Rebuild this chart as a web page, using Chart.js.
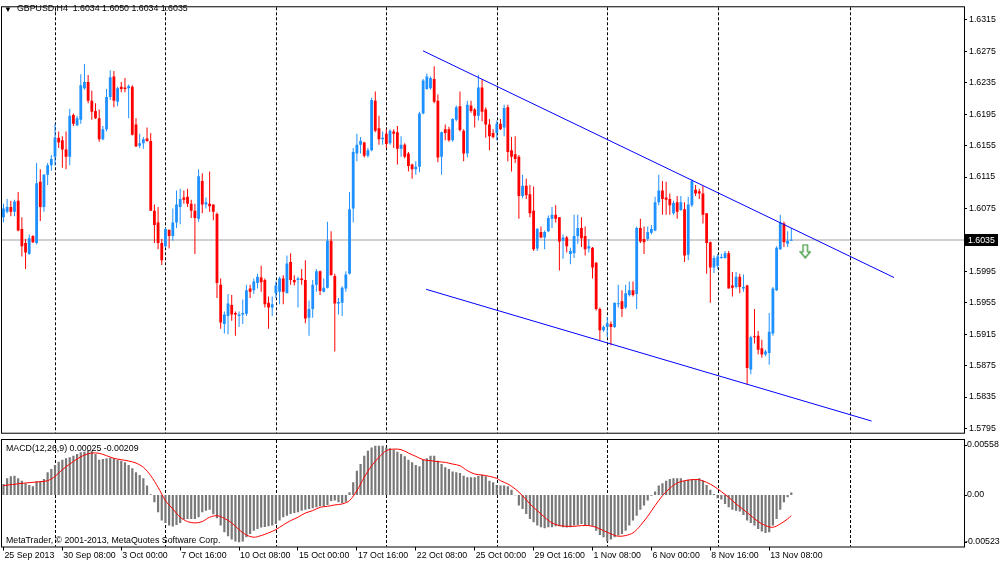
<!DOCTYPE html>
<html>
<head>
<meta charset="utf-8">
<script src="https://cdn.jsdelivr.net/npm/chart.js@4.4.1/dist/chart.umd.min.js"></script>
<style>
  html, body { margin: 0; padding: 0; background: #fff; }
  #wrap { position: relative; width: 1000px; height: 564px; overflow: hidden; background: #fff; }
  #priceBox { position: absolute; left: 0; top: 0; width: 1000px; height: 440px; }
  #macdBox { position: absolute; left: 0; top: 438px; width: 1000px; height: 126px; }
</style>
</head>
<body>
<div id="wrap">
  <div id="priceBox"><canvas id="price"></canvas></div>
  <div id="macdBox"><canvas id="macd"></canvas></div>
</div>
<script>
// GBPUSD H4 candles, one entry per bar (bar 0 = 25 Sep 2013 16:00)
const symbol = "GBPUSD";
const period = "H4";

const open = [1.6064,1.6071,1.6077,1.6071,1.6085,1.6049,1.6031,1.6017,1.6040,1.6031,
  1.6109,1.6077,1.6118,1.6130,1.6141,1.6165,1.6162,1.6150,1.6141,1.6194,
  1.6181,1.6188,1.6228,1.6236,1.6212,1.6199,1.6190,1.6163,1.6176,1.6217,
  1.6243,1.6211,1.6230,1.6229,1.6228,1.6230,1.6182,1.6155,1.6158,1.6164,
  1.6161,1.6072,1.6057,1.6031,1.6027,1.6048,1.6040,1.6057,1.6077,1.6089,
  1.6090,1.6081,1.6072,1.6062,1.6110,1.6080,1.6081,1.6080,1.6068,1.5978,
  1.5928,1.5938,1.5952,1.5942,1.5938,1.5940,1.5941,1.5973,1.5971,1.5980,
  1.5987,1.5984,1.5955,1.5949,1.5967,1.5969,1.5986,1.5967,1.6007,1.5984,
  1.5984,1.5986,1.5984,1.5936,1.5947,1.5978,1.5995,1.5969,1.5974,1.6034,
  1.5989,1.5954,1.5955,1.5973,1.5992,1.6075,1.6145,1.6156,1.6159,1.6142,
  1.6149,1.6212,1.6177,1.6163,1.6170,1.6158,1.6173,1.6172,1.6151,1.6156,
  1.6145,1.6131,1.6125,1.6128,1.6196,1.6227,1.6228,1.6240,1.6212,1.6141,
  1.6176,1.6176,1.6162,1.6188,1.6205,1.6174,1.6145,1.6206,1.6201,1.6193,
  1.6229,1.6201,1.6182,1.6171,1.6171,1.6183,1.6178,1.6204,1.6149,1.6144,
  1.6141,1.6091,1.6104,1.6093,1.6072,1.6024,1.6045,1.6038,1.6046,1.6062,
  1.6067,1.6064,1.6034,1.6038,1.6017,1.6018,1.6040,1.6050,1.6040,1.6024,
  1.6025,1.6006,1.5947,1.5920,1.5924,1.5928,1.5924,1.5953,1.5957,1.5949,
  1.5965,1.5971,1.5966,1.6050,1.6036,1.6036,1.6044,1.6047,1.6083,1.6098,
  1.6089,1.6087,1.6069,1.6083,1.6073,1.6074,1.6016,1.6079,1.6099,1.6097,
  1.6094,1.6069,1.6032,1.6000,1.6002,1.6012,1.6012,1.6018,1.5977,1.5975,
  1.5988,1.5973,1.5977,1.5870,1.5912,1.5913,1.5897,1.5889,1.5891,1.5916,
  1.5971,1.6023,1.6056,1.6030,1.6034];

const high = [1.6081,1.6087,1.6085,1.6086,1.6096,1.6064,1.6036,1.6042,1.6041,1.6133,
  1.6125,1.6119,1.6133,1.6143,1.6183,1.6173,1.6167,1.6173,1.6202,1.6196,
  1.6193,1.6246,1.6259,1.6245,1.6225,1.6209,1.6201,1.6180,1.6227,1.6251,
  1.6250,1.6230,1.6236,1.6241,1.6233,1.6232,1.6190,1.6170,1.6166,1.6178,
  1.6171,1.6080,1.6077,1.6036,1.6050,1.6048,1.6075,1.6098,1.6100,1.6098,
  1.6100,1.6086,1.6081,1.6125,1.6120,1.6089,1.6122,1.6080,1.6070,1.5986,
  1.5944,1.5966,1.5965,1.5944,1.5944,1.5959,1.5978,1.5978,1.5986,1.5992,
  1.6002,1.5986,1.5963,1.5963,1.5982,1.5988,1.5990,1.6015,1.6018,1.5990,
  1.5988,1.5998,1.6009,1.5958,1.5984,1.5998,1.5996,1.5986,1.6058,1.6046,
  1.5992,1.5961,1.5976,1.5995,1.6096,1.6152,1.6170,1.6166,1.6160,1.6152,
  1.6216,1.6224,1.6193,1.6173,1.6176,1.6176,1.6176,1.6180,1.6167,1.6158,
  1.6147,1.6132,1.6135,1.6198,1.6240,1.6247,1.6243,1.6256,1.6220,1.6173,
  1.6182,1.6179,1.6190,1.6206,1.6224,1.6176,1.6212,1.6212,1.6203,1.6245,
  1.6240,1.6204,1.6189,1.6176,1.6187,1.6189,1.6207,1.6207,1.6166,1.6167,
  1.6143,1.6118,1.6113,1.6105,1.6103,1.6050,1.6052,1.6047,1.6066,1.6077,
  1.6079,1.6064,1.6042,1.6040,1.6025,1.6067,1.6067,1.6064,1.6052,1.6036,
  1.6026,1.6007,1.5949,1.5926,1.5937,1.5931,1.5955,1.5978,1.5971,1.5978,
  1.5982,1.5982,1.6052,1.6062,1.6052,1.6052,1.6054,1.6090,1.6118,1.6110,
  1.6109,1.6094,1.6085,1.6091,1.6091,1.6083,1.6090,1.6112,1.6105,1.6100,
  1.6104,1.6069,1.6033,1.6015,1.6017,1.6017,1.6021,1.6021,1.5994,1.5994,
  1.5992,1.5991,1.5978,1.5913,1.5947,1.5919,1.5908,1.5895,1.5942,1.5975,
  1.6027,1.6067,1.6058,1.6046,1.6050];

const low = [1.6057,1.6069,1.6065,1.6065,1.6046,1.6014,1.5998,1.6016,1.6031,1.6029,
  1.6059,1.6071,1.6105,1.6123,1.6130,1.6152,1.6127,1.6125,1.6130,1.6180,
  1.6180,1.6183,1.6226,1.6209,1.6188,1.6189,1.6160,1.6162,1.6173,1.6213,
  1.6204,1.6205,1.6223,1.6223,1.6190,1.6168,1.6154,1.6152,1.6151,1.6160,
  1.6072,1.6031,1.6023,1.6003,1.6025,1.6024,1.6034,1.6050,1.6055,1.6081,
  1.6077,1.6063,1.6017,1.6058,1.6069,1.6075,1.6071,1.6060,1.5961,1.5922,
  1.5916,1.5915,1.5932,1.5913,1.5924,1.5928,1.5938,1.5961,1.5966,1.5973,
  1.5969,1.5949,1.5922,1.5938,1.5961,1.5953,1.5953,1.5967,1.5978,1.5977,
  1.5949,1.5978,1.5929,1.5913,1.5936,1.5969,1.5965,1.5968,1.5973,1.5990,
  1.5893,1.5940,1.5938,1.5969,1.5991,1.6057,1.6135,1.6145,1.6140,1.6140,
  1.6148,1.6172,1.6156,1.6156,1.6152,1.6156,1.6152,1.6131,1.6141,1.6139,
  1.6122,1.6113,1.6118,1.6121,1.6195,1.6226,1.6226,1.6209,1.6134,1.6118,
  1.6162,1.6160,1.6160,1.6186,1.6173,1.6135,1.6140,1.6197,1.6178,1.6187,
  1.6186,1.6165,1.6149,1.6164,1.6162,1.6175,1.6167,1.6135,1.6122,1.6133,
  1.6062,1.6088,1.6087,1.6064,1.6021,1.6021,1.6037,1.6023,1.6045,1.6050,
  1.6057,1.5996,1.6011,1.6019,1.6004,1.6012,1.6030,1.6026,1.6015,1.6019,
  1.5986,1.5945,1.5907,1.5918,1.5911,1.5901,1.5923,1.5949,1.5937,1.5947,
  1.5963,1.5963,1.5947,1.6031,1.6017,1.6034,1.6042,1.6046,1.6079,1.6067,
  1.6067,1.6067,1.6067,1.6062,1.6072,1.6007,1.6009,1.6077,1.6091,1.6087,
  1.6056,1.5992,1.5955,1.5993,1.5998,1.6011,1.6011,1.5973,1.5963,1.5973,
  1.5967,1.5969,1.5851,1.5864,1.5903,1.5889,1.5885,1.5887,1.5876,1.5913,
  1.5970,1.6022,1.6026,1.6026,1.6034];

const close = [1.6075,1.6077,1.6071,1.6084,1.6047,1.6027,1.6019,1.6037,1.6032,1.6107,
  1.6077,1.6118,1.6130,1.6138,1.6165,1.6159,1.6150,1.6141,1.6193,1.6183,
  1.6190,1.6232,1.6236,1.6212,1.6198,1.6190,1.6163,1.6176,1.6217,1.6242,
  1.6212,1.6228,1.6227,1.6227,1.6231,1.6169,1.6154,1.6158,1.6163,1.6161,
  1.6072,1.6054,1.6031,1.6009,1.6049,1.6040,1.6057,1.6080,1.6087,1.6086,
  1.6081,1.6072,1.6063,1.6116,1.6080,1.6083,1.6078,1.6071,1.5980,1.5930,
  1.5940,1.5954,1.5940,1.5940,1.5940,1.5942,1.5971,1.5969,1.5982,1.5988,
  1.5981,1.5953,1.5949,1.5953,1.5977,1.5986,1.5969,1.6005,1.5984,1.5981,
  1.5986,1.5984,1.5935,1.5947,1.5978,1.5995,1.5970,1.5974,1.6034,1.5990,
  1.5954,1.5956,1.5974,1.5991,1.6074,1.6147,1.6156,1.6161,1.6142,1.6149,
  1.6213,1.6174,1.6163,1.6165,1.6157,1.6174,1.6170,1.6151,1.6156,1.6141,
  1.6129,1.6125,1.6128,1.6196,1.6238,1.6243,1.6241,1.6211,1.6140,1.6172,
  1.6171,1.6162,1.6189,1.6204,1.6175,1.6145,1.6207,1.6199,1.6193,1.6229,
  1.6198,1.6182,1.6167,1.6166,1.6183,1.6176,1.6203,1.6147,1.6141,1.6138,
  1.6091,1.6104,1.6092,1.6069,1.6023,1.6049,1.6038,1.6045,1.6063,1.6067,
  1.6062,1.6033,1.6038,1.6027,1.6021,1.6040,1.6050,1.6037,1.6023,1.6027,
  1.6000,1.5947,1.5920,1.5924,1.5929,1.5924,1.5955,1.5954,1.5947,1.5967,
  1.5971,1.5965,1.6050,1.6033,1.6032,1.6045,1.6049,1.6083,1.6098,1.6087,
  1.6086,1.6079,1.6082,1.6071,1.6083,1.6015,1.6080,1.6110,1.6094,1.6094,
  1.6067,1.6031,1.6000,1.6012,1.6014,1.6013,1.6018,1.5973,1.5974,1.5988,
  1.5975,1.5975,1.5872,1.5911,1.5911,1.5895,1.5889,1.5893,1.5918,1.5973,
  1.6025,1.6057,1.6032,1.6034,1.6035];

// MACD(12,26,9): histogram per bar, signal line read at the listed bars
const macd = [0.00112,0.00169,0.00189,0.00196,0.00169,0.00145,0.00118,0.00101,0.00088,0.00139,
  0.00139,0.00162,0.00230,0.00264,0.00304,0.00338,0.00358,0.00372,0.00382,0.00399,
  0.00416,0.00433,0.00439,0.00453,0.00450,0.00416,0.00358,0.00365,0.00372,0.00379,
  0.00372,0.00358,0.00348,0.00331,0.00304,0.00270,0.00230,0.00203,0.00169,0.00095,
  0.00007,-0.00074,-0.00176,-0.00260,-0.00284,-0.00311,-0.00321,-0.00304,-0.00284,-0.00250,
  -0.00243,-0.00243,-0.00243,-0.00226,-0.00176,-0.00159,-0.00149,-0.00196,-0.00237,-0.00311,
  -0.00379,-0.00419,-0.00453,-0.00473,-0.00480,-0.00473,-0.00429,-0.00395,-0.00362,-0.00345,
  -0.00331,-0.00324,-0.00318,-0.00311,-0.00294,-0.00260,-0.00226,-0.00210,-0.00193,-0.00183,
  -0.00176,-0.00159,-0.00149,-0.00142,-0.00135,-0.00125,-0.00115,-0.00115,-0.00101,-0.00061,
  -0.00057,-0.00074,-0.00081,-0.00068,0.00027,0.00128,0.00247,0.00314,0.00399,0.00450,
  0.00483,0.00500,0.00500,0.00500,0.00483,0.00473,0.00460,0.00439,0.00416,0.00392,
  0.00358,0.00331,0.00304,0.00291,0.00358,0.00372,0.00399,0.00399,0.00348,0.00314,
  0.00281,0.00264,0.00237,0.00230,0.00223,0.00196,0.00179,0.00179,0.00179,0.00196,
  0.00203,0.00189,0.00145,0.00128,0.00101,0.00095,0.00095,0.00088,0.00054,-0.00003,
  -0.00108,-0.00142,-0.00193,-0.00243,-0.00277,-0.00311,-0.00328,-0.00338,-0.00328,-0.00328,
  -0.00318,-0.00318,-0.00328,-0.00331,-0.00328,-0.00311,-0.00304,-0.00294,-0.00304,-0.00311,
  -0.00318,-0.00362,-0.00406,-0.00429,-0.00473,-0.00453,-0.00429,-0.00412,-0.00395,-0.00362,
  -0.00311,-0.00260,-0.00210,-0.00149,-0.00108,-0.00057,-0.00007,0.00034,0.00095,0.00118,
  0.00145,0.00162,0.00169,0.00169,0.00169,0.00145,0.00155,0.00162,0.00162,0.00169,
  0.00145,0.00101,0.00054,0.00010,-0.00034,-0.00047,-0.00091,-0.00125,-0.00149,-0.00159,
  -0.00169,-0.00203,-0.00260,-0.00284,-0.00311,-0.00345,-0.00372,-0.00385,-0.00379,-0.00311,
  -0.00243,-0.00149,-0.00074,-0.00024,0.00025];

const signalAt = [0,5,10,12,14,16,18,20,22,24,26,28,30,32,34,36,38,40,42,44,
  46,48,50,52,54,56,58,60,62,64,66,68,70,72,74,76,78,80,82,84,
  86,88,90,92,94,96,98,100,102,104,106,108,110,112,114,116,118,120,122,124,
  126,128,130,132,134,135,137,139,141,143,145,147,149,151,153,155,157,159,161,163,
  165,167,169,171,173,175,177,179,181,183,185,187,189,191,193,195,197,199,201,203,
  205,207,209,211,213,214];
const signal = [0.00095,0.00118,0.00135,0.00145,0.00189,0.00257,0.00314,0.00365,0.00406,0.00426,
  0.00423,0.00399,0.00372,0.00358,0.00345,0.00324,0.00281,0.00196,0.00078,-0.00057,
  -0.00142,-0.00226,-0.00270,-0.00284,-0.00270,-0.00226,-0.00210,-0.00237,-0.00284,-0.00352,
  -0.00406,-0.00429,-0.00412,-0.00385,-0.00352,-0.00304,-0.00260,-0.00226,-0.00183,-0.00159,
  -0.00125,-0.00115,-0.00101,-0.00091,-0.00057,0.00044,0.00179,0.00297,0.00382,0.00450,
  0.00466,0.00460,0.00426,0.00392,0.00358,0.00348,0.00338,0.00331,0.00314,0.00297,
  0.00247,0.00213,0.00203,0.00189,0.00169,0.00145,0.00112,0.00061,-0.00007,-0.00091,
  -0.00159,-0.00226,-0.00284,-0.00311,-0.00318,-0.00318,-0.00311,-0.00311,-0.00328,-0.00362,
  -0.00395,-0.00419,-0.00412,-0.00385,-0.00311,-0.00216,-0.00108,-0.00007,0.00068,0.00122,
  0.00145,0.00155,0.00155,0.00128,0.00088,0.00034,-0.00024,-0.00091,-0.00149,-0.00210,
  -0.00270,-0.00311,-0.00328,-0.00294,-0.00243,-0.00209];

// axis ticks
const priceTicks = [1.5795,1.5835,1.5875,1.5915,1.5955,1.5995,1.6035,1.6075,1.6115,1.6155,1.6195,1.6235,1.6275,1.6315];
const macdTicks = [0.00558, 0, -0.00523];
const timeTickAt = [0,16,32,48,64,80,96,112,128,144,160,176,192,208];
const timeLabels = ["25 Sep 2013","30 Sep 08:00","3 Oct 00:00","7 Oct 16:00","10 Oct 08:00","15 Oct 00:00",
  "17 Oct 16:00","22 Oct 08:00","25 Oct 00:00","29 Oct 16:00","1 Nov 08:00","6 Nov 00:00","8 Nov 16:00","13 Nov 08:00"];

// chart objects: period separators, a vertical line, channel, sell arrow
const separatorAt = [14,44,74,104,134,164,194,230];
const channelUpper = [{ x: 113.96, y: 1.62757 }, { x: 241.9, y: 1.59871 }];
const channelLower = [{ x: 114.8, y: 1.59721 }, { x: 235.8, y: 1.58044 }];
const sellArrow = [{ x: 217.8, y: 1.60205 }];

// view window (bar index / value range of each pane)
const xMin = -0.397, xMax = 260.91;
const priceMin = 1.578953, priceMax = 1.633115;
const macdMin = -0.00523, macdMax = 0.00558;

const FONT = '"Liberation Sans", Arial, sans-serif';
const FSIZE = 8.8;
const UP = "#1e90ff";
const DOWN = "#ff0000";
const last = close.length - 1;

const candleColors = close.map((c, i) => (c >= open[i] ? UP : DOWN));
const bodies = open.map((o, i) => ({ x: i, y: [o, close[i]] }));
const wicks = open.map((o, i) => ({ x: i, y: [low[i], high[i]] }));

function makeArrow() {
  const c = document.createElement("canvas");
  c.width = 12;
  c.height = 15;
  const g = c.getContext("2d");
  g.strokeStyle = "#2f8f2f";
  g.lineWidth = 1.2;
  g.beginPath();
  g.moveTo(3.8, 1);
  g.lineTo(8.2, 1);
  g.lineTo(8.2, 8);
  g.lineTo(11, 8);
  g.lineTo(6, 14);
  g.lineTo(1, 8);
  g.lineTo(3.8, 8);
  g.closePath();
  g.stroke();
  return c;
}

function drawSeparators(chart) {
  const { ctx, chartArea: a, scales } = chart;
  ctx.save();
  ctx.strokeStyle = "#000";
  ctx.lineWidth = 1;
  ctx.setLineDash([3, 2]);
  separatorAt.forEach((b) => {
    const x = Math.round(scales.x.getPixelForValue(b)) + 0.5;
    ctx.beginPath();
    ctx.moveTo(x, a.top);
    ctx.lineTo(x, a.bottom);
    ctx.stroke();
  });
  ctx.restore();
}

const priceDecor = {
  id: "priceDecor",
  beforeDatasetsDraw(chart) {
    const { ctx, chartArea: a, scales } = chart;
    const y = scales.y.getPixelForValue(close[last]);
    ctx.save();
    ctx.strokeStyle = "#d0d0d0";
    ctx.lineWidth = 2;
    ctx.beginPath();
    ctx.moveTo(a.left, y);
    ctx.lineTo(a.right, y);
    ctx.stroke();
    ctx.restore();
    drawSeparators(chart);
  },
  afterDraw(chart) {
    const { ctx, chartArea: a, scales } = chart;
    ctx.save();
    ctx.strokeStyle = "#000";
    ctx.lineWidth = 1;
    ctx.strokeRect(a.left - 0.5, a.top - 0.5, a.right - a.left + 1, a.bottom - a.top + 1);

    // header: symbol, period and last bar OHLC
    ctx.fillStyle = "#000";
    ctx.textBaseline = "middle";
    ctx.font = "8px " + FONT;
    ctx.fillText("\u25BC", 4, 10);
    ctx.font = FSIZE + "px " + FONT;
    const ohlc = [open[last], high[last], low[last], close[last]].map((v) => v.toFixed(4)).join(" ");
    ctx.fillText(symbol + "," + period + "  " + ohlc, 17, 9);

    // current price box on the axis
    const y = scales.y.getPixelForValue(close[last]);
    ctx.fillStyle = "#000";
    ctx.fillRect(a.right + 1, Math.round(y) - 6, 33, 12);
    ctx.fillStyle = "#fff";
    ctx.fillText(close[last].toFixed(4), a.right + 4, Math.round(y) + 0.5);
    ctx.restore();
  },
};

const macdDecor = {
  id: "macdDecor",
  beforeDatasetsDraw(chart) {
    drawSeparators(chart);
  },
  afterDraw(chart) {
    const { ctx, chartArea: a, scales } = chart;
    ctx.save();
    ctx.strokeStyle = "#000";
    ctx.lineWidth = 1;
    ctx.strokeRect(a.left - 0.5, a.top - 0.5, a.right - a.left + 1, a.bottom - a.top + 1);

    ctx.fillStyle = "#000";
    ctx.textBaseline = "middle";
    ctx.font = FSIZE + "px " + FONT;
    ctx.fillText("MACD(12,26,9) " + macd[last].toFixed(5) + " " + signal[signal.length - 1].toFixed(5), 6, a.top + 9);
    ctx.fillText("MetaTrader, \u00A9 2001-2013, MetaQuotes Software Corp.", 6, a.bottom - 6);

    // right-hand scale labels, kept inside the pane like the terminal does
    macdTicks.forEach((v) => {
      let y = scales.y.getPixelForValue(v);
      y = Math.min(Math.max(y, a.top + 5), a.bottom - 5);
      ctx.beginPath();
      ctx.moveTo(a.right, Math.round(y) + 0.5);
      ctx.lineTo(a.right + 3, Math.round(y) + 0.5);
      ctx.stroke();
      ctx.fillText(v === 0 ? "0.00" : v.toFixed(5), a.right + (v < 0 ? 1 : 3), y);
    });
    ctx.restore();
  },
};

const commonX = {
  type: "linear",
  min: xMin,
  max: xMax,
  offset: false,
};

new Chart(document.getElementById("price"), {
  type: "bar",
  data: {
    datasets: [
      {
        type: "scatter",
        data: sellArrow,
        pointStyle: makeArrow(),
        pointRadius: 6,
      },
      {
        type: "line",
        data: channelUpper,
        borderColor: "#0000ff",
        borderWidth: 1,
        pointRadius: 0,
      },
      {
        type: "line",
        data: channelLower,
        borderColor: "#0000ff",
        borderWidth: 1,
        pointRadius: 0,
      },
      {
        label: "body",
        data: bodies,
        backgroundColor: candleColors,
        barThickness: 2.8,
        minBarLength: 1,
        grouped: false,
        inflateAmount: 0,
        borderWidth: 0,
      },
      {
        label: "wick",
        data: wicks,
        backgroundColor: candleColors,
        barThickness: 1,
        grouped: false,
        inflateAmount: 0,
        borderWidth: 0,
      },
    ],
  },
  options: {
    responsive: true,
    maintainAspectRatio: false,
    animation: false,
    events: [],
    layout: { autoPadding: false, padding: { left: 2, top: 2, right: 0, bottom: 2 } },
    plugins: { legend: { display: false }, tooltip: { enabled: false } },
    scales: {
      x: Object.assign({}, commonX, { display: false, grid: { offset: false } }),
      y: {
        position: "right",
        min: priceMin,
        max: priceMax,
        afterFit: (axis) => {
          axis.width = 36;
        },
        afterBuildTicks: (axis) => {
          axis.ticks = priceTicks.map((v) => ({ value: v }));
        },
        ticks: {
          color: "#000",
          padding: 2,
          font: { family: FONT, size: FSIZE },
          callback: (v) => Number(v).toFixed(4),
        },
        grid: { drawOnChartArea: false, tickLength: 3, color: "#000" },
        border: { display: false },
      },
    },
  },
  plugins: [priceDecor],
});

new Chart(document.getElementById("macd"), {
  type: "bar",
  data: {
    datasets: [
      {
        type: "line",
        data: signalAt.map((b, k) => ({ x: b, y: signal[k] })),
        borderColor: "#ff0000",
        borderWidth: 1,
        pointRadius: 0,
        tension: 0.3,
      },
      {
        data: macd.map((v, i) => ({ x: i, y: v })),
        backgroundColor: "#787878",
        barThickness: 2.2,
        inflateAmount: 0,
        borderWidth: 0,
      },
    ],
  },
  options: {
    responsive: true,
    maintainAspectRatio: false,
    animation: false,
    events: [],
    layout: { autoPadding: false, padding: { left: 2, top: 2, right: 0, bottom: 0 } },
    plugins: { legend: { display: false }, tooltip: { enabled: false } },
    scales: {
      x: Object.assign({}, commonX, {
        afterFit: (axis) => {
          axis.height = 17.5;
        },
        afterBuildTicks: (axis) => {
          axis.ticks = timeTickAt.map((v) => ({ value: v }));
        },
        ticks: {
          autoSkip: false,
          maxRotation: 0,
          align: "start",
          padding: 0,
          labelOffset: 1,
          color: "#000",
          font: { family: FONT, size: FSIZE },
          callback: (v, i) => timeLabels[i],
        },
        grid: { drawOnChartArea: false, offset: false, tickLength: 4, color: "#000" },
        border: { display: false },
      }),
      y: {
        position: "right",
        min: macdMin,
        max: macdMax,
        afterFit: (axis) => {
          axis.width = 36;
        },
        ticks: { display: false },
        grid: { display: false },
        border: { display: false },
      },
    },
  },
  plugins: [macdDecor],
});
</script>
</body>
</html>
